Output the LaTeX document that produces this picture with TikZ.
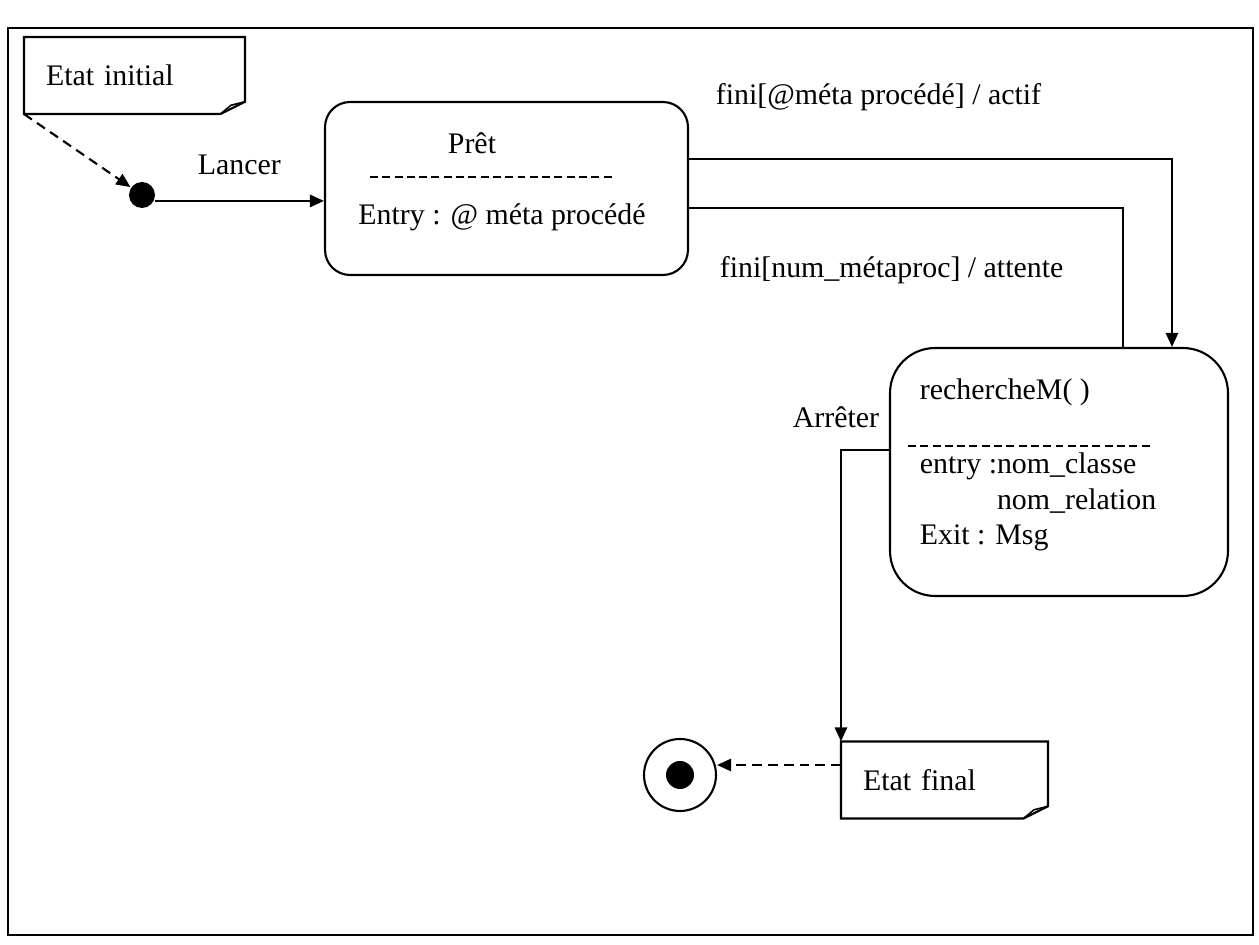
\documentclass[tikz,border=0pt]{standalone}
\usepackage{fontspec}
\setmainfont{Liberation Serif}
\usepackage{tikz}
\usetikzlibrary{shapes,positioning,arrows,arrows.meta,calc}

\tikzset{
	every node/.style={font=\fontsize{17}{20}\selectfont},
	etat/.style={draw, rounded corners=0.5cm, line width=1.2pt},
	note/.style={minimum height=1.5cm, inner xsep=0.42cm, align=left},
	tiret/.style={dash pattern=on 5.5pt off 3.5pt, line width=1.2pt},
	sep/.style={dash pattern=on 4.5pt off 2.5pt, line width=0.9pt},
}
% note with a folded corner
\newcommand{\foldnote}[1]{%
	\draw[line width=1.2pt] (#1.north west) -- (#1.north east) -- ([yshift=7pt]#1.south east)
		-- ([xshift=-14pt]#1.south east) -- (#1.south west) -- cycle;
	\draw[line width=0.9pt] ([xshift=-14pt]#1.south east) -- ([xshift=-8pt,yshift=5pt]#1.south east)
		-- ([yshift=7pt]#1.south east);}

\begin{document}
\begin{tikzpicture}[x=0.02cm, y=-0.02cm, line width=1.2pt, >={Triangle[length=8pt,width=7pt]}]
				\useasboundingbox (0,0) rectangle (1259,945);
				\draw[line width=1.4pt] (8,28) rectangle (1253,935);
				
				% notes
				\node[note, text width=3.54cm] (ininote) at (134.5,75.5) {Etat initial};
				\foldnote{ininote}
				\node[note, text width=3.26cm] (finote) at (944.5,780) {Etat final};
				\foldnote{finote}
				
				% initial and final states
				\node[circle, fill, minimum size=0.52cm, inner sep=0] (init) at (142,195) {};
				\node[circle, draw, minimum size=1.44cm, inner sep=0] (fin) at (680,775) {};
				\fill (fin.center) circle (0.28cm);
				
				% states
				\node[etat, minimum width=7.26cm, minimum height=3.46cm] (pret) at (506.5,188.5) {};
				\node (pretnom) at (472,143) {Prêt};
				\draw[sep] (370,177) -- (615,177);
				\node (pretentry) at (502,217) {Entry : @ méta procédé};
				
				\node[etat, rounded corners=0.9cm, minimum width=6.76cm, minimum height=4.96cm] (rech) at (1059,472) {};
				\node[anchor=west] (rechnom) at (913,392) {rechercheM( )};
				\draw[sep] (908,446) -- (1152,446);
				\node[anchor=west, align=left] (rechact) at (913,502) {entry :nom\_classe\\\phantom{entry :}nom\_relation\\Exit : Msg};
				
				% transitions
				\draw[->] (init.-25) -- (init.-25 -| pret.west) node[midway, above, yshift=11pt] (lancer) {Lancer};
				\draw[->] ([yshift=0.59cm]pret.east) -| ([xshift=2.26cm]rech.north);
				\node[anchor=west] (actif) at (709,97) {fini[@méta procédé] / actif};
				\draw ([yshift=-0.39cm]pret.east) -| ([xshift=1.28cm]rech.north);
				\node[anchor=west] (attente) at (713,270) {fini[num\_métaproc] / attente};
				\draw[->] ([yshift=0.44cm]rech.west) -| (finote.north west);
				\node[anchor=east] (arreter) at (886,417) {Arrêter};
				
				\draw[tiret, ->] (ininote.south west) -- (init);
				\draw[tiret, ->] ([yshift=0.3cm]finote.west) -- ([yshift=0.3cm]finote.west -| fin.east);
			\end{tikzpicture}
\end{document}
